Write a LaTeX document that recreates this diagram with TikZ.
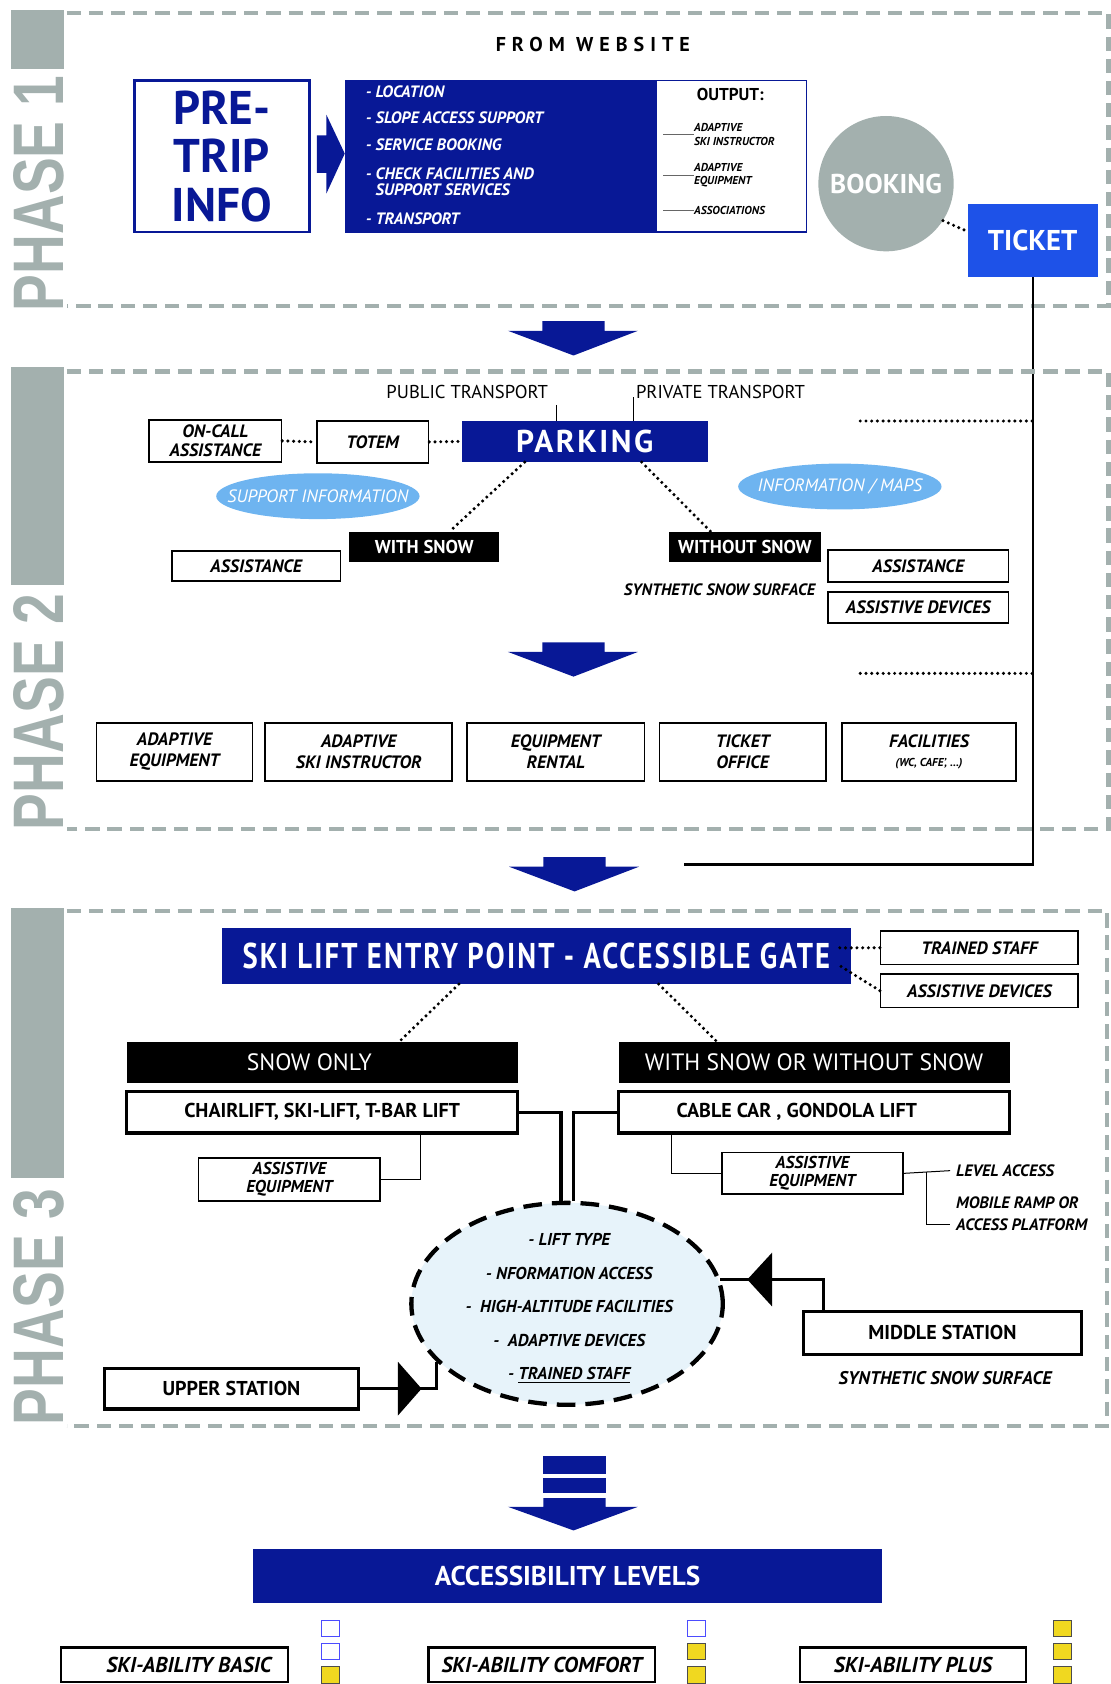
\documentclass[tikz,border=0pt]{standalone}
\usepackage{fontspec}
\setmainfont{PT Sans}
\newfontfamily\phasefont{Liberation Sans}[FakeStretch=0.77]
\newfontfamily\condfont{PT Sans}[FakeStretch=0.8]
\usetikzlibrary{shapes.geometric}

\definecolor{navyblue}{RGB}{8,24,150}
\definecolor{ticketblue}{RGB}{30,82,232}
\definecolor{phasegray}{RGB}{163,176,174}
\definecolor{infoblue}{RGB}{110,180,240}
\definecolor{ellfill}{RGB}{231,243,250}
\definecolor{levelyellow}{RGB}{240,216,32}

\tikzset{
  boxsize/.style 2 args={minimum width=#1*0.75pt, minimum height=#2*0.75pt},
  phaseframe/.style={draw=phasegray, line width=3pt, dash pattern=on 10pt off 5.5pt},
  phaselabel/.style={rotate=90, text=phasegray, inner sep=0pt, font=\phasefont\bfseries\fontsize{50}{50}\selectfont},
  labelbox/.style={draw, line width=1.1pt, inner sep=0pt, align=center, font=\bfseries\itshape\fontsize{12.5}{13.5}\selectfont},
  stationbox/.style={draw, line width=2.3pt, inner sep=0pt, align=center, font=\bfseries\fontsize{14}{16}\selectfont},
  blackbar/.style={fill=black, inner sep=0pt, text=white},
  navybar/.style={fill=navyblue, inner sep=0pt, text=white},
  bluecloud/.style={ellipse, fill=infoblue, inner sep=0pt, minimum width=142pt, minimum height=32pt},
  cloudtext/.style={text=white, font=\itshape\fontsize{12.5}{14}\selectfont},
  dotline/.style={line width=2.4pt, dash pattern=on 0pt off 4pt, line cap=round},
  plainlabel/.style={inner sep=0pt, align=left, font=\bfseries\itshape\fontsize{11.5}{15}\selectfont},
  levelsq/.style={draw=blue!70!white, line width=0.5pt, fill=white},
  levelsqon/.style={draw=black!70, line width=0.5pt, fill=levelyellow},
  bigarrow/.pic={\fill[navyblue] (-29,0) -- (29,0) -- (29,-9) -- (60,-9) -- (0,-32) -- (-61,-9) -- (-29,-9) -- cycle;}
}

\begin{document}
\begin{tikzpicture}[x=0.75pt,y=0.75pt,yscale=-1,xscale=1]
\useasboundingbox (0,0) rectangle (1034,1568);

%%%%%%%% PHASE 1
\fill[phasegray] (10,9) rectangle (60,64);
\node[phaselabel] (ph1) at (36,180) {PHASE 1};
\draw[phaseframe] (62,12) -- (1032,12) -- (1032,285) -- (62,285);

% Text Node
\node[font=\bfseries\fontsize{14}{15}\selectfont\addfontfeatures{LetterSpace=30}] (website) at (552,41) {FROM WEBSITE};

%Shape: pre-trip box
\node[draw=navyblue, line width=2pt, inner sep=0pt, boxsize={163}{141}, text=navyblue, align=center, font=\bfseries\fontsize{33}{34}\selectfont] (pretrip) at (206.5,145.5) {PRE-\\TRIP\\INFO};
%Shape: block arrow
\fill[navyblue] (295,126) -- (304,126) -- (304,107) -- (321,143) -- (304,180) -- (304,161) -- (295,161) -- cycle;

%Shape: website info
\node[fill=navyblue, inner sep=0pt, boxsize={290}{141}] (infolist) at (467,145.5) {};
\node[draw=navyblue, line width=1.2pt, inner sep=0pt, boxsize={429}{141}] (infobox) at (536.5,145.5) {};
\node[anchor=west, text=white, font=\bfseries\itshape\fontsize{11.5}{11}\selectfont] (it1) at (336,85) {- LOCATION};
\node[anchor=west, text=white, font=\bfseries\itshape\fontsize{11.5}{11}\selectfont] (it2) at (336,110) {- SLOPE ACCESS SUPPORT};
\node[anchor=west, text=white, font=\bfseries\itshape\fontsize{11.5}{11}\selectfont] (it3) at (336,135) {- SERVICE BOOKING};
\node[anchor=west, text=white, align=left, font=\bfseries\itshape\fontsize{11.5}{11}\selectfont] (it4) at (336,169.5) {- CHECK FACILITIES AND\\\hphantom{- }SUPPORT SERVICES};
\node[anchor=west, text=white, font=\bfseries\itshape\fontsize{11.5}{11}\selectfont] (it5) at (336,204) {- TRANSPORT};

% Text Node
\node[font=\bfseries\fontsize{12}{14}\selectfont] (output) at (680,88) {OUTPUT:};
\node[anchor=west, align=left, inner sep=0pt, font=\bfseries\itshape\fontsize{8}{9.5}\selectfont] (out1) at (646,125) {ADAPTIVE\\SKI INSTRUCTOR};
\node[anchor=west, align=left, inner sep=0pt, font=\bfseries\itshape\fontsize{8}{9.5}\selectfont] (out2) at (646,163) {ADAPTIVE\\EQUIPMENT};
\node[anchor=west, align=left, inner sep=0pt, font=\bfseries\itshape\fontsize{8}{9.5}\selectfont] (out3) at (646,196) {ASSOCIATIONS};
\draw[line width=0.6pt, black!60] (out1.west) -- ++(-29,0);
\draw[line width=0.6pt, black!60] (out2.west) -- ++(-29,0);
\draw[line width=0.6pt, black!60] (out3.west) -- ++(-29,0);

%Shape: booking and ticket
\node[circle, fill=phasegray, minimum size=94.5pt, inner sep=0pt, text=white, font=\bfseries\fontsize{19}{20}\selectfont] (booking) at (825,171) {BOOKING};
\node[fill=ticketblue, inner sep=0pt, boxsize={121}{68}, text=white, font=\bfseries\fontsize{20}{22}\selectfont] (ticket) at (961.5,224) {TICKET};
\draw[dotline] (booking.-33) -- (ticket.172);
\coordinate (tkend) at (637,805);
\draw[line width=1.5pt] (ticket.south) |- (tkend);

\pic at (534,299) {bigarrow};

%%%%%%%% PHASE 2
\fill[phasegray] (10,342) rectangle (60,545);
\node[phaselabel] (ph2) at (36,663) {PHASE 2};
\draw[phaseframe] (62,346) -- (1032,346) -- (1032,772) -- (62,772);

% Text Node
\node[font=\fontsize{13}{15}\selectfont] (pubtr) at (435,365) {PUBLIC TRANSPORT};
\node[anchor=west, inner sep=0pt, font=\fontsize{13}{15}\selectfont] (privtr) at (592,365) {PRIVATE TRANSPORT};

\node[navybar, boxsize={229}{38}, font=\bfseries\fontsize{22}{24}\selectfont\addfontfeatures{LetterSpace=8}] (parking) at (544.5,411) {PARKING};
\coordinate (pubtick) at (518,377);
\coordinate (privtick) at (590,370);
\draw[line width=1pt] (pubtick) -- (pubtick |- parking.north);
\draw[line width=1pt] (privtick) -- (privtick |- parking.north);

\node[labelbox, boxsize={123}{39}] (oncall) at (200.5,410.5) {ON-CALL\\ASSISTANCE};
\node[labelbox, boxsize={104}{39}] (totem) at (347,411.5) {TOTEM};
\draw[dotline] (oncall.east) -- (totem.west);
\draw[dotline] (totem.east) -- (parking.west);

\node[bluecloud, label={[cloudtext]center:SUPPORT INFORMATION}] (suppinfo) at (296,462) {};
\node[bluecloud, label={[cloudtext]center:INFORMATION / MAPS}] (infomaps) at (782,453) {};

\node[blackbar, boxsize={140}{28}, font=\bfseries\fontsize{13}{15}\selectfont] (withsnow) at (395,509) {WITH SNOW};
\node[blackbar, boxsize={141}{28}, font=\bfseries\fontsize{13}{15}\selectfont] (withoutsnow) at (693.5,509) {WITHOUT SNOW};
\draw[dotline] (parking.199.2) -- (withsnow.31.3);
\draw[dotline] (parking.340.1) -- (withoutsnow.156);

\node[labelbox, boxsize={157}{28}] (assistleft) at (238.5,527) {ASSISTANCE};
\node[plainlabel] (synth1) at (670,549) {SYNTHETIC SNOW SURFACE};
\node[labelbox, boxsize={168}{30}] (assistright) at (855,527) {ASSISTANCE};
\node[labelbox, boxsize={168}{29}] (assistdev1) at (855,565.5) {ASSISTIVE DEVICES};

\coordinate (dl1) at (801,392);
\coordinate (dl2) at (801,627);
\draw[dotline] (dl1) -- (dl1 -| ticket.south);
\draw[dotline] (dl2) -- (dl2 -| ticket.south);

\pic at (534,598) {bigarrow};

%Shape: services row
\node[labelbox, boxsize={145}{54}, font=\bfseries\itshape\fontsize{12.5}{15}\selectfont] (adapteq) at (162.5,700) {ADAPTIVE\\EQUIPMENT};
\node[labelbox, boxsize={174}{54}, font=\bfseries\itshape\fontsize{12.5}{15}\selectfont] (adaptski) at (334,700) {ADAPTIVE\\SKI INSTRUCTOR};
\node[labelbox, boxsize={165}{54}, font=\bfseries\itshape\fontsize{12.5}{15}\selectfont] (rental) at (517.5,700) {EQUIPMENT\\RENTAL};
\node[labelbox, boxsize={155}{54}, font=\bfseries\itshape\fontsize{12.5}{15}\selectfont] (office) at (691.5,700) {TICKET\\OFFICE};
\node[labelbox, boxsize={162}{54}, font=\bfseries\itshape\fontsize{12.5}{13}\selectfont] (facilities) at (865,700) {FACILITIES\\{\fontsize{8}{9}\selectfont (WC, CAFE', ...)}};

\pic at (535,798) {bigarrow};

%%%%%%%% PHASE 3
\fill[phasegray] (10,845) rectangle (60,1097);
\node[phaselabel] (ph3) at (36,1217) {PHASE 3};
\draw[phaseframe] (62,848) -- (1031,848) -- (1031,1328) -- (62,1328);

\node[navybar, boxsize={585}{52}, font=\condfont\bfseries\fontsize{25}{27}\selectfont\addfontfeatures{LetterSpace=6}] (gate) at (499.5,890) {SKI LIFT ENTRY POINT - ACCESSIBLE GATE};
\node[labelbox, boxsize={184}{31}] (trained) at (912,882.5) {TRAINED STAFF};
\node[labelbox, boxsize={184}{31}] (assistdev2) at (912,922.5) {ASSISTIVE DEVICES};
\draw[dotline] (trained.west) -- ++(-42,0);
\draw[dotline] (assistdev2.west) -- ++(-40,-25);

\node[blackbar, boxsize={364}{38}, font=\fontsize{16.5}{18}\selectfont] (snowonly) at (300,989) {SNOW ONLY\rule{18pt}{0pt}};
\node[blackbar, boxsize={364}{38}, font=\fontsize{16.5}{18}\selectfont] (anysnow) at (758,989) {WITH SNOW OR WITHOUT SNOW};
\draw[dotline] (gate.200.8) -- (snowonly.15);
\draw[dotline] (gate.347.2) -- (anysnow.168);

\node[stationbox, boxsize={364}{39}] (chair) at (300,1035.5) {CHAIRLIFT, SKI-LIFT, T-BAR LIFT};
\node[stationbox, boxsize={364}{39}] (cable) at (758,1035.5) {CABLE CAR , GONDOLA LIFT\rule{24pt}{0pt}};

%Shape: lift checklist
\node[ellipse, draw, fill=ellfill, line width=3pt, dash pattern=on 13pt off 7pt, minimum width=217.5pt, minimum height=141pt, inner sep=0pt] (ell) at (528,1214) {};
\node[align=center, font=\bfseries\itshape\fontsize{12}{23.4}\selectfont] (elltext) at (530,1218) {- LIFT TYPE\\- NFORMATION ACCESS\\-\ \ HIGH-ALTITUDE FACILITIES\\-\ \ ADAPTIVE DEVICES\\- \underline{TRAINED STAFF}};

\draw[line width=2.2pt] (chair.east) -| ([xshift=-4.2pt]ell.north);
\draw[line width=2.2pt] (cable.west) -| ([xshift=4.2pt]ell.north);

\node[labelbox, boxsize={169}{40}, font=\bfseries\itshape\fontsize{12}{12.5}\selectfont] (ae1) at (269.5,1098) {ASSISTIVE\\EQUIPMENT};
\draw[line width=0.7pt] (ae1.east) -| (chair.347.1);
\node[labelbox, boxsize={169}{39}, font=\bfseries\itshape\fontsize{12}{12.5}\selectfont] (ae2) at (756.5,1092.5) {ASSISTIVE\\EQUIPMENT};
\draw[line width=0.7pt] (cable.189.6) |- (ae2.west);

\node[plainlabel, anchor=west] (level) at (890,1090) {LEVEL ACCESS};
\node[plainlabel, anchor=west] (mobile) at (890,1130) {MOBILE RAMP OR\\ACCESS PLATFORM};
\draw[line width=0.7pt] (ae2.east) -- ([xshift=-4pt]level.west);
\coordinate (lvbr) at (863,1091);
\draw[line width=0.7pt] (lvbr) |- ([xshift=-4pt,yshift=7.5pt]mobile.west);

\node[stationbox, boxsize={259}{40}] (midst) at (877.5,1241) {MIDDLE STATION};
\node[plainlabel, font=\bfseries\itshape\fontsize{12.8}{15}\selectfont] (synth2) at (880,1283) {SYNTHETIC SNOW SURFACE};
\draw[line width=2.2pt] (midst.169.8) |- (ell.9.7);
\fill (ell.9.7) ++(25,0) -- ++(23,-25) -- ++(0,50) -- cycle;

\node[stationbox, boxsize={237}{38}] (upst) at (215.5,1293) {UPPER STATION};
\draw[line width=2.2pt] (upst.east) -| (ell.204.8);
\fill (upst.east) ++(35,-25) -- ++(22,25) -- ++(-22,25) -- cycle;

%%%%%%%% LEVELS
\fill[navyblue] (506,1356) rectangle (564,1372);
\fill[navyblue] (506,1376) rectangle (564,1390);
\fill[navyblue] (506,1395) -- (564,1395) -- (564,1403) -- (594,1403) -- (534,1425) -- (473,1403) -- (506,1403) -- cycle;

\node[navybar, boxsize={585}{51}, font=\bfseries\fontsize{19}{21}\selectfont] (levels) at (528.5,1467.5) {ACCESSIBILITY LEVELS};

\node[labelbox, line width=1.6pt, boxsize={211}{32}, font=\bfseries\itshape\fontsize{15}{16}\selectfont] (basic) at (162.5,1550) {\hspace*{20pt}SKI-ABILITY BASIC};
\node[labelbox, line width=1.6pt, boxsize={211}{32}, font=\bfseries\itshape\fontsize{15}{16}\selectfont] (comfort) at (504.5,1550) {SKI-ABILITY COMFORT};
\node[labelbox, line width=1.6pt, boxsize={210}{32}, font=\bfseries\itshape\fontsize{15}{16}\selectfont] (plus) at (850,1550) {SKI-ABILITY PLUS};

%Shape: level squares
\draw[levelsq] (299,1509) rectangle (316,1524);
\draw[levelsq] (299,1530) rectangle (316,1545);
\draw[levelsqon] (299,1552) rectangle (316,1567);
\draw[levelsq] (640,1509) rectangle (657,1524);
\draw[levelsqon] (640,1530) rectangle (657,1545);
\draw[levelsqon] (640,1552) rectangle (657,1567);
\draw[levelsqon] (981,1509) rectangle (998,1524);
\draw[levelsqon] (981,1530) rectangle (998,1545);
\draw[levelsqon] (981,1552) rectangle (998,1567);

\end{tikzpicture}
\end{document}
